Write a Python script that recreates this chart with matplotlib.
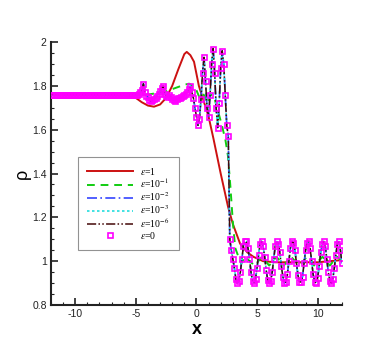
import numpy as np
import matplotlib
matplotlib.use("Agg")
import matplotlib.pyplot as plt
from matplotlib.ticker import MultipleLocator, FormatStrFormatter

plt.rcParams['axes.unicode_minus'] = False
plt.rcParams['mathtext.fontset'] = 'stix'

# grid for the oscillating solutions (dx = 0.125)
x_grid = np.linspace(-12, 12, 193)

# eps = 0 (markers); eps = 1e-2, 1e-3, 1e-6 follow it closely
rho_left = [1.76] * 57
rho_mid = [1.76, 1.765, 1.77, 1.78, 1.81, 1.77, 1.755, 1.75,
           1.735, 1.73, 1.735, 1.74, 1.745, 1.755, 1.765, 1.775,
           1.79, 1.80, 1.765, 1.755, 1.75, 1.76, 1.75, 1.74,
           1.735, 1.73, 1.74, 1.745, 1.745, 1.75, 1.755, 1.76,
           1.765, 1.77, 1.785, 1.80, 1.77, 1.745, 1.70, 1.66,
           1.62, 1.65, 1.74, 1.86, 1.93, 1.82, 1.70, 1.66,
           1.76, 1.90, 1.97, 1.86, 1.70, 1.61, 1.72, 1.88,
           1.96, 1.90, 1.76, 1.62, 1.57, 1.10, 1.05]
rho_right = [1.01, 0.97, 0.92, 0.90, 0.91, 0.95, 1.01, 1.07,
             1.09, 1.09, 1.06, 1.01, 0.95, 0.91, 0.90, 0.92,
             0.97, 1.03, 1.08, 1.09, 1.07, 1.02, 0.96, 0.915,
             0.90, 0.91, 0.95, 1.01, 1.07, 1.09, 1.08, 1.04,
             0.98, 0.93, 0.90, 0.905, 0.94, 1.00, 1.06, 1.09,
             1.085, 1.05, 0.99, 0.935, 0.905, 0.905, 0.93, 0.99,
             1.05, 1.085, 1.09, 1.06, 1.00, 0.94, 0.905, 0.90,
             0.925, 0.98, 1.04, 1.08, 1.09, 1.07, 1.01, 0.95,
             0.91, 0.90, 0.92, 0.97, 1.03, 1.08, 1.09, 1.05,
             0.99]
rho_eps0 = rho_left + rho_mid + rho_right
rho_eps6 = rho_eps0
rho_eps3 = rho_eps0
rho_eps2 = rho_eps0

# eps = 1
x_eps1 = [-12, -6, -5, -4.5, -4, -3.5, -3, -2.5, -2, -1.5, -1, -0.8, -0.5,
          -0.2, 0.2, 0.6, 1.0, 1.4, 2.0, 2.6, 3.0, 3.6, 4.2, 4.7, 5.5, 6.5,
          8, 10, 11, 12]
rho_eps1 = [1.76, 1.758, 1.745, 1.725, 1.71, 1.705, 1.715, 1.745, 1.80,
            1.875, 1.945, 1.955, 1.94, 1.91, 1.80, 1.73, 1.66, 1.56, 1.40,
            1.25, 1.17, 1.08, 1.04, 1.02, 1.0, 0.995, 0.995, 0.995, 1.0, 1.005]

# eps = 1e-1
x_eps01 = [-12, -4.5, -4, -3.5, -3, -2.5, -2, -1.5, -1, -0.6, -0.3, 0.0, 0.3,
           0.6, 0.9, 1.2, 1.5, 1.8, 2.1, 2.4, 2.6, 2.8, 3.0, 3.2, 3.4, 3.7,
           4.0, 4.4, 4.8, 5.4, 6.0, 6.6, 7.2, 7.8, 8.5, 9.1, 9.7, 10.4, 11.0,
           11.6, 12]
rho_eps01 = [1.76, 1.76, 1.76, 1.765, 1.77, 1.775, 1.785, 1.795, 1.805, 1.81,
             1.80, 1.78, 1.74, 1.76, 1.72, 1.76, 1.74, 1.68, 1.62, 1.55, 1.48,
             1.34, 1.18, 1.06, 1.03, 0.99, 1.02, 1.00, 0.98, 1.02, 0.98, 1.02,
             0.98, 1.02, 0.98, 1.02, 0.98, 1.02, 0.98, 1.02, 1.00]

labels = [r'$\varepsilon$=1', r'$\varepsilon$=10$^{-1}$', r'$\varepsilon$=10$^{-2}$',
          r'$\varepsilon$=10$^{-3}$', r'$\varepsilon$=10$^{-6}$', r'$\varepsilon$=0']

fig = plt.figure(figsize=(3.89, 3.46), dpi=100)
ax = fig.add_axes([0.131, 0.1185, 0.748, 0.760])

ax.plot(x_eps1, rho_eps1, color='#cc1111', lw=1.4, label=labels[0], zorder=3)
ax.plot(x_eps01, rho_eps01, color='#11cc11', lw=1.4, ls=(0, (4, 3)), label=labels[1], zorder=3)
ax.plot(x_grid, rho_eps2, color='#3344ff', lw=1.2, ls=(0, (6, 2, 1, 2)), label=labels[2], zorder=4)
ax.plot(x_grid, rho_eps3, color='#22dddd', lw=1.2, ls=(0, (1.5, 1.5)), label=labels[3], zorder=4)
ax.plot(x_grid, rho_eps6, color='#440808', lw=1.1, ls=(0, (6, 1.5, 1, 1.5, 1, 1.5)), label=labels[4], zorder=5)
ax.plot(x_grid, rho_eps0, ls='none', marker='s', ms=3.6, mfc='none', mec='#ff00ff',
        mew=1.2, label=labels[5], zorder=7)

ax.set_xlim(-12, 12)
ax.set_ylim(0.8, 2.0)
ax.xaxis.set_major_locator(MultipleLocator(5))
ax.xaxis.set_minor_locator(MultipleLocator(1))
ax.yaxis.set_major_locator(MultipleLocator(0.2))
ax.yaxis.set_minor_locator(MultipleLocator(0.05))
ax.yaxis.set_major_formatter(FormatStrFormatter('%g'))
ax.xaxis.set_major_formatter(FormatStrFormatter('%g'))

for s in ['top', 'right']:
    ax.spines[s].set_visible(False)
for s in ['left', 'bottom']:
    ax.spines[s].set_linewidth(1.5)
    ax.spines[s].set_color('#222222')

ax.tick_params(which='both', direction='in', colors='#222222')
ax.tick_params(which='major', length=5, width=1.2, labelsize=7.5, pad=3)
ax.tick_params(which='minor', length=2.5, width=0.8)
for t in ax.get_xticklabels() + ax.get_yticklabels():
    t.set_fontfamily('Liberation Sans')

ax.set_xlabel('x', fontsize=13, fontweight='bold', family='Liberation Sans', labelpad=1)
ax.set_ylabel('\u03c1', fontsize=13, family='Liberation Sans', labelpad=1)

leg = ax.legend(loc='upper left', bbox_to_anchor=(78 / 389, 1 - 157 / 346),
                bbox_transform=fig.transFigure, frameon=True,
                fancybox=False, edgecolor='#777777', handlelength=4.8,
                handletextpad=0.7, numpoints=1, borderpad=0.9, labelspacing=0.0,
                borderaxespad=0, prop={'family': 'Liberation Serif', 'size': 7})
leg.get_frame().set_linewidth(0.8)

fig.savefig('out.png', dpi=100)
